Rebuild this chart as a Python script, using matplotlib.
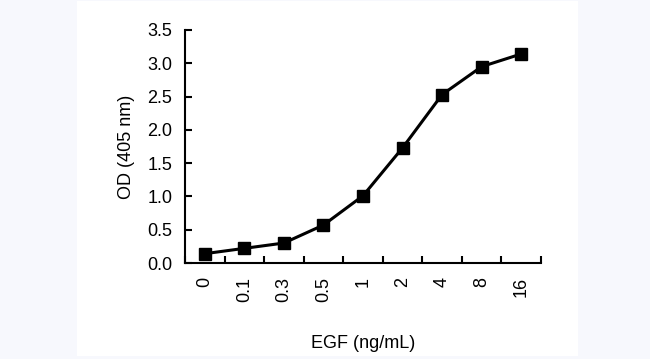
import numpy as np
import matplotlib
matplotlib.use("Agg")
import matplotlib.pyplot as plt
from matplotlib.patches import Rectangle

# data
egf_labels = ["0", "0.1", "0.3", "0.5", "1", "2", "4", "8", "16"]
od_405 = [0.14, 0.22, 0.30, 0.57, 1.01, 1.73, 2.53, 2.95, 3.14]
y_ticks = [0.0, 0.5, 1.0, 1.5, 2.0, 2.5, 3.0, 3.5]

plt.rcParams['font.family'] = ['Liberation Sans', 'DejaVu Sans']

fig = plt.figure(figsize=(6.5, 3.59), dpi=100, facecolor='#f7f8fd')
# white panel behind the chart
fig.patches.append(Rectangle((77 / 650, 3 / 359), 501 / 650, 355 / 359,
                             transform=fig.transFigure, facecolor='white',
                             edgecolor='none', zorder=-10))

ax = fig.add_axes([185 / 650, (359 - 263) / 359, 356 / 650, 233 / 359])
ax.set_facecolor('none')
ax.set_zorder(5)

x = np.arange(len(egf_labels))
ax.plot(x, od_405, color='black', lw=2.2, marker='s', ms=8.5, clip_on=False)

ax.set_xlim(-0.5, len(egf_labels) - 0.5)
ax.set_ylim(0, 3.5)

# category labels without ticks, ticks on the boundaries
ax.set_xticks(x)
ax.set_xticklabels(egf_labels, rotation=90, fontsize=13)
ax.tick_params(axis='x', which='major', length=0, pad=10)
ax.set_xticks(np.arange(len(egf_labels) + 1) - 0.5, minor=True)
ax.tick_params(axis='x', which='minor', direction='in', length=5, width=1.5)

ax.set_yticks(y_ticks)
ax.set_yticklabels([f"{v:.1f}" for v in y_ticks], fontsize=13)
ax.tick_params(axis='y', direction='in', length=5, width=1.5, pad=9)

for s in ['top', 'right']:
    ax.spines[s].set_visible(False)
for s in ['left', 'bottom']:
    ax.spines[s].set_linewidth(1.5)

ax.set_ylabel('OD (405 nm)', fontsize=13, labelpad=9)
ax.set_xlabel('EGF (ng/mL)', fontsize=13, labelpad=24)

fig.savefig('out.png', dpi=100, facecolor=fig.get_facecolor())
